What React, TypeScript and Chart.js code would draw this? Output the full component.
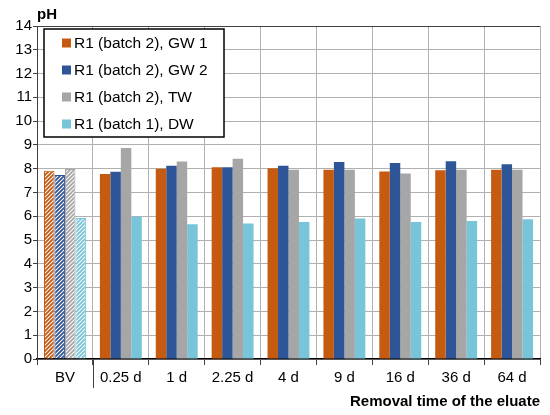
import React, { useEffect, useRef } from 'react'
import Chart from 'chart.js/auto'

const categories = ['BV', '0.25 d', '1 d', '2.25 d', '4 d', '9 d', '16 d', '36 d', '64 d']
const seriesNames = ['R1 (batch 2), GW 1', 'R1 (batch 2), GW 2', 'R1 (batch 2), TW', 'R1 (batch 1), DW']
const gw1 = [7.91, 7.78, 8.0, 8.06, 8.02, 7.96, 7.88, 7.94, 7.96]
const gw2 = [7.74, 7.87, 8.12, 8.06, 8.12, 8.28, 8.24, 8.31, 8.19]
const tw = [7.99, 8.87, 8.3, 8.42, 7.96, 7.96, 7.8, 7.96, 7.96]
const dw = [5.93, 5.98, 5.66, 5.7, 5.76, 5.91, 5.76, 5.8, 5.88]
const colors = ['#C55A11', '#2E5597', '#A6A6A6', '#78C4D8']

const FONT = '"Liberation Sans", Arial, sans-serif'

// diagonal hatch used for the BV bars
const hatch = (color: string) => {
  const c = document.createElement('canvas')
  c.width = 4
  c.height = 4
  const g = c.getContext('2d')!
  g.fillStyle = '#fff'
  g.fillRect(0, 0, 4, 4)
  g.strokeStyle = color
  g.lineWidth = 1.8
  g.beginPath()
  g.moveTo(0, 4)
  g.lineTo(4, 0)
  g.moveTo(-1, 1)
  g.lineTo(1, -1)
  g.moveTo(3, 5)
  g.lineTo(5, 3)
  g.stroke()
  return g.createPattern(c, 'repeat')!
}

const decor = {
  id: 'decor',
  afterDraw(chart: any) {
    const { ctx, chartArea, scales } = chart
    ctx.save()
    // y axis unit
    ctx.fillStyle = '#000'
    ctx.font = `bold 15px ${FONT}`
    ctx.textBaseline = 'alphabetic'
    ctx.textAlign = 'left'
    ctx.fillText('pH', 37, 19)

    // separator between BV and time series
    const x = (scales.x.getPixelForValue(0) + scales.x.getPixelForValue(1)) / 2
    ctx.strokeStyle = '#404040'
    ctx.lineWidth = 1
    ctx.beginPath()
    ctx.moveTo(Math.round(x) + 0.5, chartArea.bottom)
    ctx.lineTo(Math.round(x) + 0.5, chartArea.bottom + 29)
    ctx.stroke()

    // legend box
    const bx = 44, by = 29, bw = 180, bh = 108
    ctx.fillStyle = '#fff'
    ctx.fillRect(bx, by, bw, bh)
    ctx.strokeStyle = '#000'
    ctx.lineWidth = 1.5
    ctx.strokeRect(bx, by, bw, bh)
    ctx.font = `15.5px ${FONT}`
    ctx.textBaseline = 'middle'
    chart.data.datasets.forEach((ds: any, i: number) => {
      const cy = 43 + i * 27
      ctx.fillStyle = colors[i]
      ctx.fillRect(62, cy - 4.5, 9, 9)
      ctx.fillStyle = '#000'
      ctx.fillText(ds.label, 74, cy + 1)
    })
    ctx.restore()
  },
}

const App = () => {
  const chartRef = useRef<HTMLCanvasElement>(null)
  const chartInstance = useRef<Chart>()

  useEffect(() => {
    document.body.style.margin = '0'
    if (chartRef.current) {
      const ctx = chartRef.current.getContext('2d')
      if (ctx) {
        const values = [gw1, gw2, tw, dw]
        chartInstance.current = new Chart(ctx, {
          type: 'bar',
          data: {
            labels: categories,
            datasets: values.map((data, i) => ({
              label: seriesNames[i],
              data,
              backgroundColor: data.map((_, j) => (j === 0 ? hatch(colors[i]) : colors[i])),
              borderColor: colors[i],
              borderWidth: data.map((_, j) => (j === 0 ? 1 : 0)),
              categoryPercentage: 0.75,
              barPercentage: 1,
            })),
          },
          options: {
            animation: false,
            responsive: true,
            maintainAspectRatio: false,
            layout: { padding: { top: 26, right: 10, left: 0, bottom: 0 } },
            plugins: {
              legend: { display: false },
              tooltip: { enabled: false },
            },
            scales: {
              x: {
                grid: {
                  offset: true,
                  color: '#B0B0B0',
                  tickColor: '#404040',
                  tickLength: 6,
                },
                border: { color: '#000', width: 1.5 },
                ticks: {
                  color: '#000',
                  font: { family: FONT, size: 15 },
                  padding: 4,
                  maxRotation: 0,
                },
                title: {
                  display: true,
                  text: 'Removal time of the eluate',
                  align: 'end',
                  color: '#000',
                  font: { family: FONT, size: 15, weight: 'bold' },
                  padding: { top: 0, bottom: 4 },
                },
                afterFit: (scale: any) => {
                  scale.height = 56
                },
              },
              y: {
                min: 0,
                max: 14,
                ticks: {
                  stepSize: 1,
                  color: '#000',
                  font: { family: FONT, size: 15 },
                  padding: 1,
                },
                grid: {
                  color: (c: any) => (c.tick && c.tick.value === 14 ? '#404040' : '#B0B0B0'),
                  tickColor: '#404040',
                  tickLength: 4,
                },
                border: { color: '#404040', width: 1 },
                afterFit: (scale: any) => {
                  scale.width = 37
                },
              },
            },
          },
          plugins: [decor],
        })
      }
    }

    return () => {
      if (chartInstance.current) {
        chartInstance.current.destroy()
      }
    }
  }, [])

  return (
    <div style={{ width: 550, height: 415, position: 'relative', background: '#fff' }}>
      <canvas ref={chartRef} />
    </div>
  )
}

export default App
